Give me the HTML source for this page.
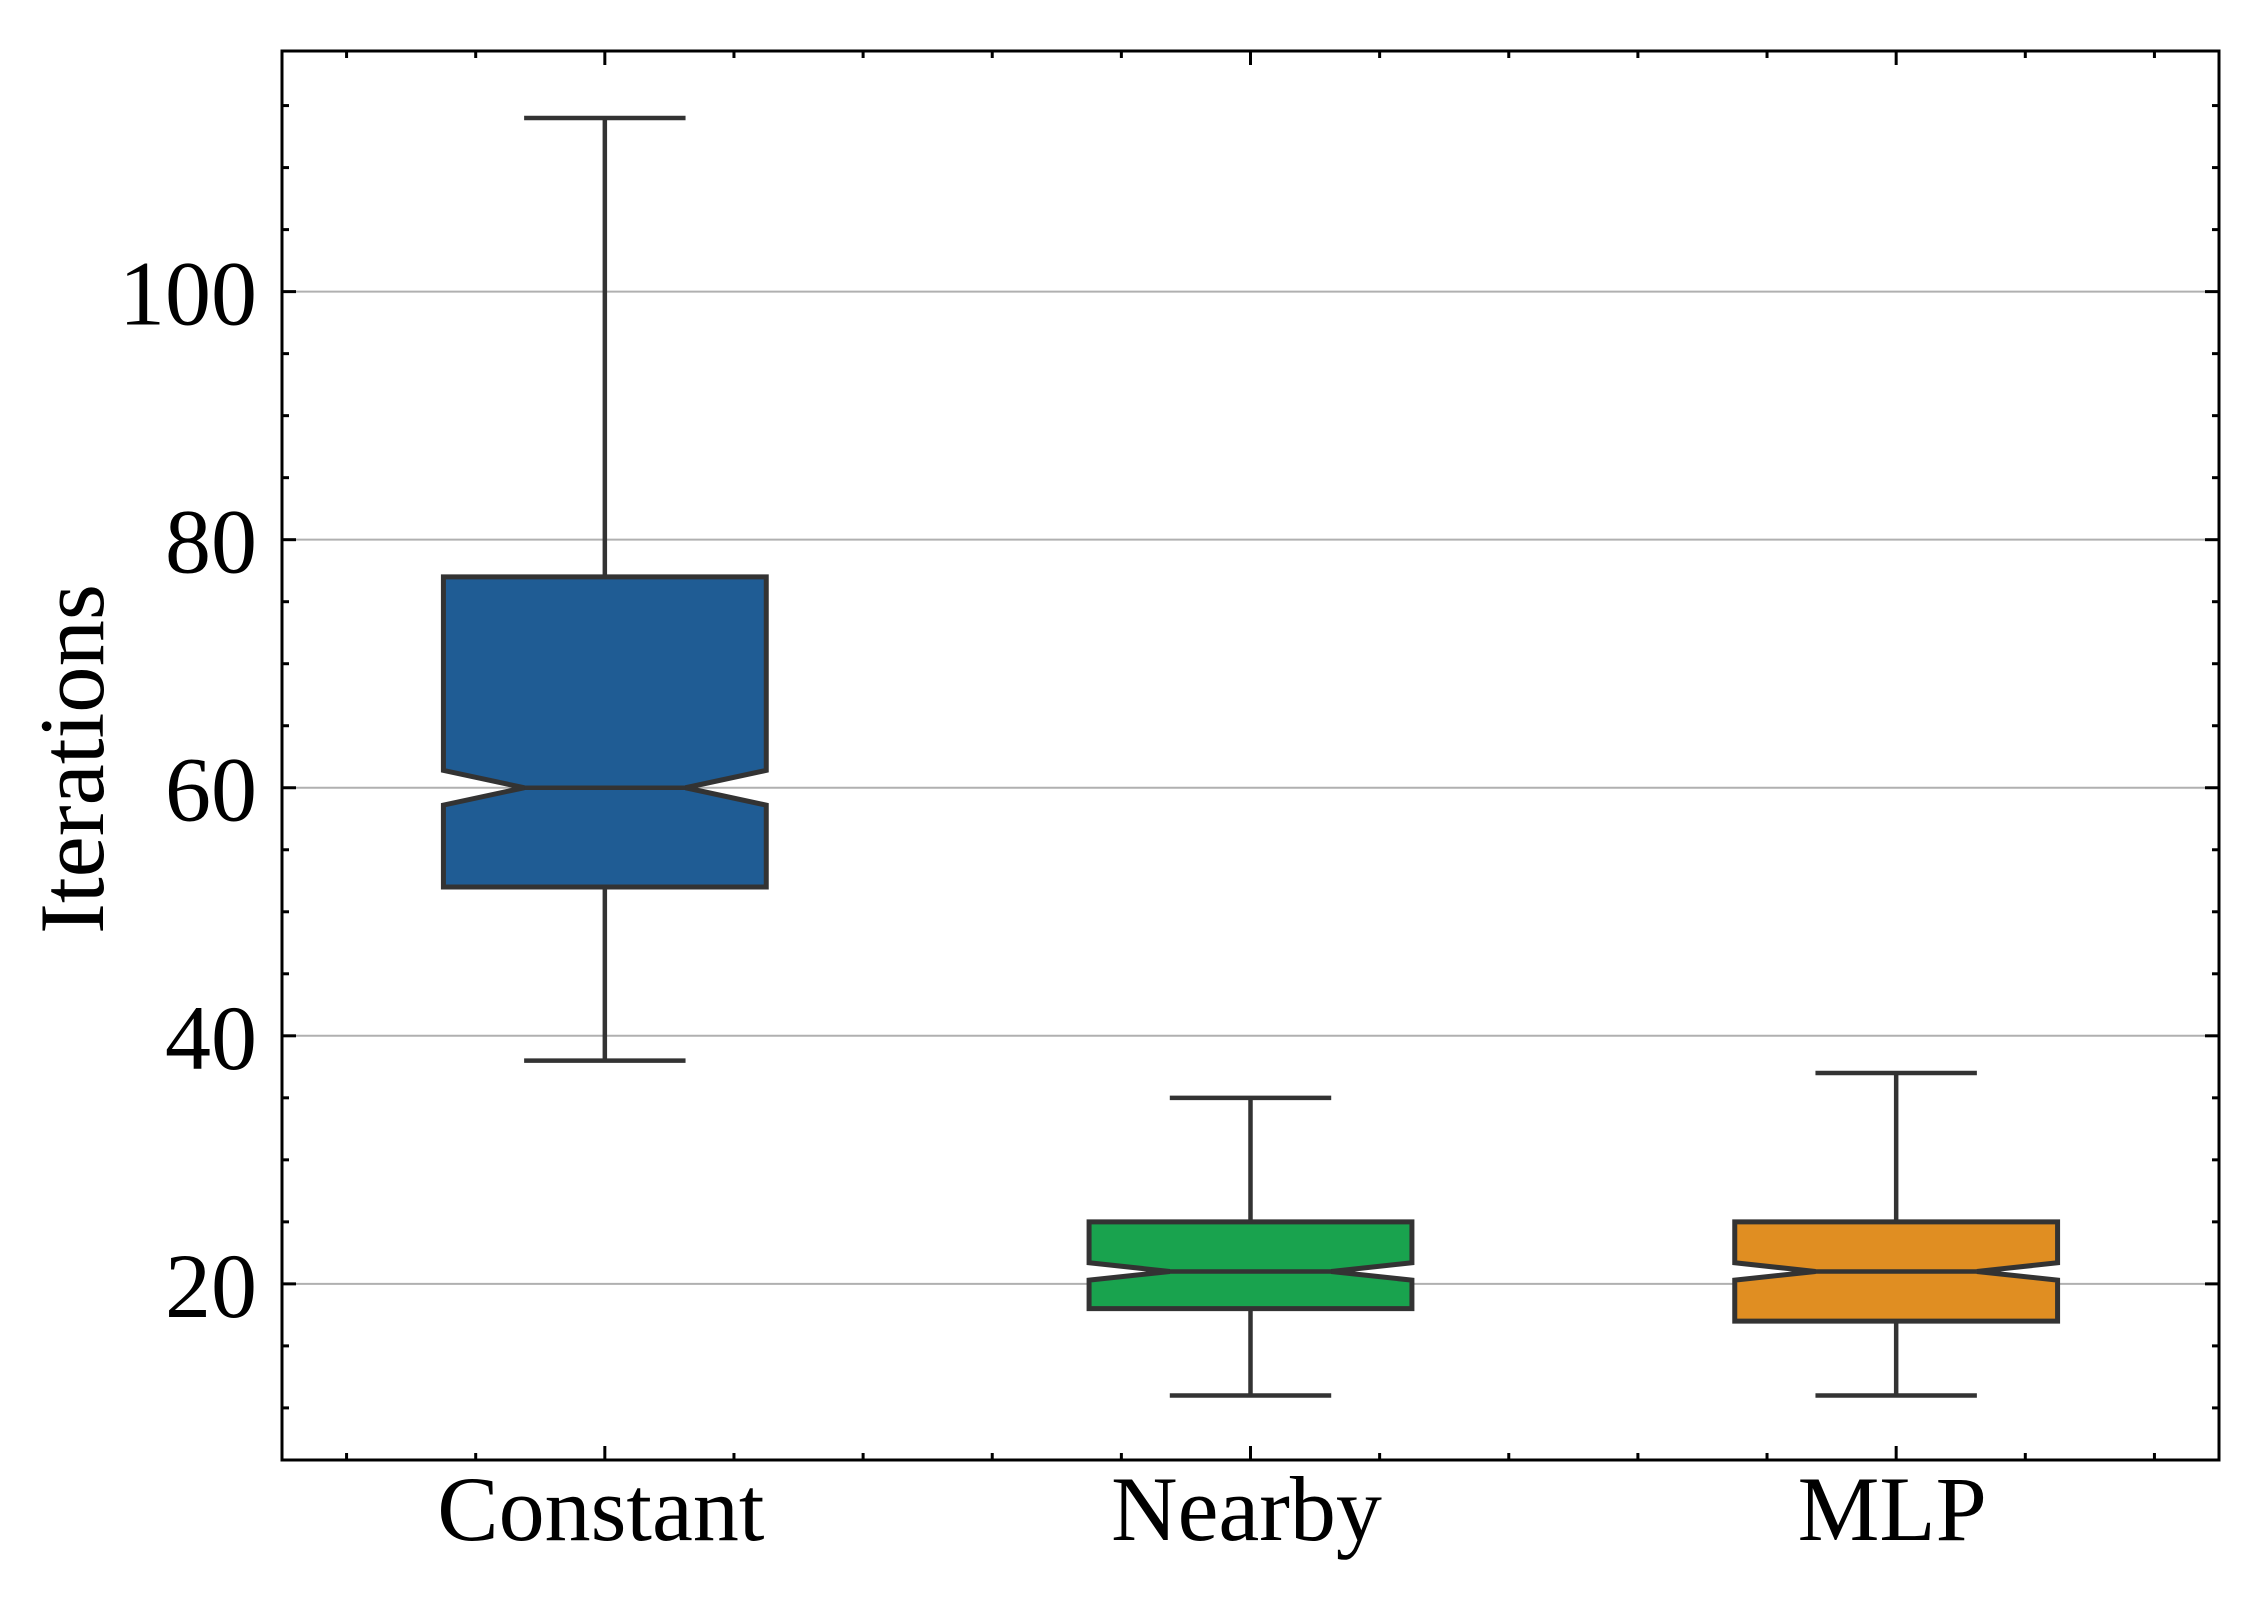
<!DOCTYPE html>
<html><head><meta charset="utf-8"><style>
html,body{margin:0;padding:0;background:#fff;}
svg{display:block;}
text{font-family:"Liberation Serif",serif;fill:#000;}
</style></head><body>
<svg id="chart" width="2261" height="1598" viewBox="0 0 2261 1598" xmlns="http://www.w3.org/2000/svg">
<g id="grid"></g>
<g id="boxes"></g>
<g id="axes"></g>
<text transform="translate(103,759) rotate(-90)" text-anchor="middle" font-size="92" textLength="350" lengthAdjust="spacingAndGlyphs">Iterations</text>
</svg>
<script>
const categories = ["Constant", "Nearby", "MLP"];
const whiskerLow = [38, 11, 11];
const q1 = [52, 18, 17];
const medians = [60, 21, 21];
const q3 = [77, 25, 25];
const whiskerHigh = [114, 35, 37];
const notchLow = [58.6, 20.3, 20.3];
const notchHigh = [61.4, 21.7, 21.7];
const colors = ["#1f5c94", "#19a34e", "#e08e22"];
const yTicks = [20, 40, 60, 80, 100];

const L = 282, R = 2219, T = 51, B = 1460;
const yMin = 5.8, yMax = 119.4;
const NS = "http://www.w3.org/2000/svg";
function y(v){ return B - (v - yMin) / (yMax - yMin) * (B - T); }
function x(i){ return L + (i + 0.5) / categories.length * (R - L); }
const step = (R - L) / categories.length;
function el(tag, attrs, parent){ const e = document.createElementNS(NS, tag); for (const k in attrs) e.setAttribute(k, attrs[k]); parent.appendChild(e); return e; }
const grid = document.getElementById('grid'), boxes = document.getElementById('boxes'), axes = document.getElementById('axes');

yTicks.forEach(t => {
  const g = el('line', {x1:L, x2:R, y1:y(t), y2:y(t), stroke:'#b0b0b0', 'stroke-width':2}, grid);
  
  
});

const hw = step * 0.25, cap = hw / 2, ink = '#333';
categories.forEach((c, i) => {
  const cx = x(i);
  const grp = el('g', {}, boxes);
  
  
  const st = {stroke:ink, 'stroke-width':4.5, fill:'none'};
  el('line', Object.assign({x1:cx, x2:cx, y1:y(q1[i]), y2:y(whiskerLow[i])}, st), grp);
  el('line', Object.assign({x1:cx, x2:cx, y1:y(q3[i]), y2:y(whiskerHigh[i])}, st), grp);
  el('line', Object.assign({x1:cx-cap, x2:cx+cap, y1:y(whiskerLow[i]), y2:y(whiskerLow[i])}, st), grp);
  el('line', Object.assign({x1:cx-cap, x2:cx+cap, y1:y(whiskerHigh[i]), y2:y(whiskerHigh[i])}, st), grp);
  const inset = hw / 2;
  const pts = [
    [cx-hw, y(q1[i])], [cx+hw, y(q1[i])], [cx+hw, y(notchLow[i])], [cx+hw-inset, y(medians[i])],
    [cx+hw, y(notchHigh[i])], [cx+hw, y(q3[i])], [cx-hw, y(q3[i])], [cx-hw, y(notchHigh[i])],
    [cx-hw+inset, y(medians[i])], [cx-hw, y(notchLow[i])]
  ];
  el('polygon', {points: pts.map(p => p.join(',')).join(' '), fill:colors[i], stroke:ink, 'stroke-width':5, 'stroke-linejoin':'miter'}, grp);
  el('line', Object.assign({x1:cx-hw+inset, x2:cx+hw-inset, y1:y(medians[i]), y2:y(medians[i])}, st), grp);
  const lab = el('text', {x:cx-4, y:1540, 'text-anchor':'middle', 'font-size':92}, axes);
  lab.textContent = c;
  
  
});

el('rect', {x:L, y:T, width:R-L, height:B-T, fill:'none', stroke:'#000', 'stroke-width':3}, axes);
for (let v = 10; v <= 115; v += 5) {
  const major = v % 20 === 0, len = major ? 14 : 7;
  el('line', {x1:L, x2:L+len, y1:y(v), y2:y(v), stroke:'#000', 'stroke-width':3}, axes);
  el('line', {x1:R, x2:R-len, y1:y(v), y2:y(v), stroke:'#000', 'stroke-width':3}, axes);
}
yTicks.forEach(t => {
  const tx = el('text', {x:257, y:y(t)+33, 'text-anchor':'end', 'font-size':92}, axes);
  tx.textContent = t;
  
  
});
for (let k = -2; k <= 12; k++) {
  const pos = k * 0.2;
  if (pos < -0.45 || pos > 2.45) continue;
  const px = L + (pos + 0.5) * step;
  const major = k % 5 === 0, len = major ? 14 : 7;
  el('line', {x1:px, x2:px, y1:B, y2:B-len, stroke:'#000', 'stroke-width':3}, axes);
  el('line', {x1:px, x2:px, y1:T, y2:T+len, stroke:'#000', 'stroke-width':3}, axes);
}
</script>
</body></html>
